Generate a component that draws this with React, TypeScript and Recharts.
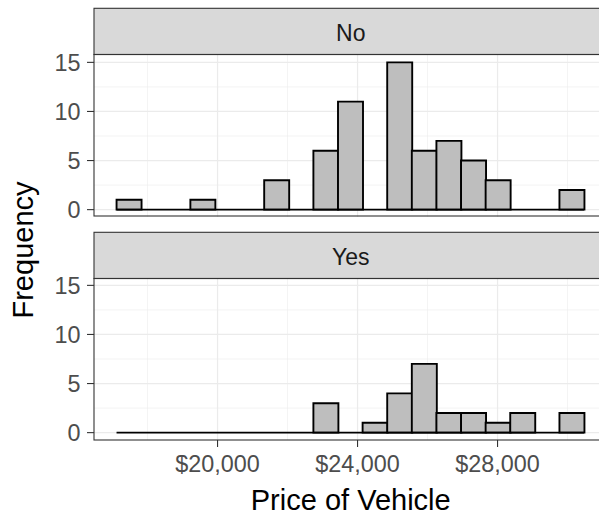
import React from "react";
import {
  BarChart,
  Bar,
  XAxis,
  YAxis,
  CartesianGrid,
  ReferenceLine,
} from "recharts";

// Histogram bins (centres, $) and counts per facet
const binCenters = [
  17466, 18169, 18872, 19575, 20278, 20981, 21684, 22387, 23090, 23793,
  24496, 25199, 25902, 26605, 27308, 28011, 28714, 29417, 30120,
];
const countsNo = [1, 0, 0, 1, 0, 0, 3, 0, 6, 11, 0, 15, 6, 7, 5, 3, 0, 0, 2];
const countsYes = [0, 0, 0, 0, 0, 0, 0, 0, 3, 0, 1, 4, 7, 2, 2, 1, 2, 0, 2];
const firstEdge = 17114;
const lastEdge = 30471;

const facetLabels = ["No", "Yes"];
const xTicks = [20000, 24000, 28000];
const xMinor = [18000, 22000, 26000, 30000];
const yTicks = [0, 5, 10, 15];
const yMinor = [2.5, 7.5, 12.5];
const xDomain: [number, number] = [16470, 31140];
const yDomain: [number, number] = [-0.75, 15.75];

const FONT = "'Liberation Sans', Arial, Helvetica, sans-serif";
const CHART_W = 620;
const PLOT_LEFT = 94;
const PLOT_W = (xDomain[1] - xDomain[0]) * 0.035;
const RIGHT_M = CHART_W - PLOT_LEFT - PLOT_W;

const fmt = (v: number) => "$" + v.toLocaleString("en-US");

function Panel({
  counts,
  top,
  height,
  showX,
}: {
  counts: number[];
  top: number;
  height: number;
  showX: boolean;
}) {
  const data = binCenters.map((c, i) => ({ x: c, count: counts[i] }));
  const bottom = showX ? 34 : height - top - 162;
  return (
    <div style={{ position: "absolute", left: 0, top: 0 }}>
      <BarChart
        width={CHART_W}
        height={height}
        data={data}
        margin={{ top, right: RIGHT_M, left: 0, bottom }}
        barCategoryGap={0}
        barGap={0}
      >
        <CartesianGrid
          stroke="#EBEBEB"
          strokeWidth={0.6}
          horizontalValues={yMinor}
          verticalValues={xMinor}
        />
        <CartesianGrid
          stroke="#EBEBEB"
          strokeWidth={1.2}
          horizontalValues={yTicks}
          verticalValues={xTicks}
        />
        <XAxis
          dataKey="x"
          type="number"
          domain={xDomain}
          allowDataOverflow
          ticks={xTicks}
          tickFormatter={fmt}
          hide={!showX}
          height={showX ? 40 : 0}
          axisLine={false}
          tickLine={{ stroke: "#333333", strokeWidth: 1.1 }}
          tickSize={7}
          tickMargin={8}
          tick={{ fill: "#4D4D4D", fontSize: 23.4, fontFamily: FONT }}
          interval={0}
        />
        <YAxis
          type="number"
          domain={yDomain}
          allowDataOverflow
          ticks={yTicks}
          width={PLOT_LEFT}
          axisLine={false}
          tickLine={{ stroke: "#333333", strokeWidth: 1.1 }}
          tickSize={7}
          tickMargin={6.5}
          tick={{ fill: "#4D4D4D", fontSize: 23.4, fontFamily: FONT }}
          interval={0}
        />
        <Bar
          dataKey="count"
          fill="#BEBEBE"
          stroke="#000000"
          strokeWidth={1.9}
          isAnimationActive={false}
        />
        <ReferenceLine
          segment={[
            { x: firstEdge, y: 0 },
            { x: lastEdge, y: 0 },
          ]}
          stroke="#000000"
          strokeWidth={1.9}
        />
      </BarChart>
    </div>
  );
}

export default function App() {
  const stripTops = [8.3, 232.3];
  const stripH = 46.2;
  const panelTops = [54.5, 278.5];
  const panelH = 161.5;
  const cx = PLOT_LEFT + PLOT_W / 2;
  return (
    <div
      style={{
        position: "absolute",
        left: 0,
        top: 0,
        width: 599,
        height: 514,
        overflow: "hidden",
        background: "#FFFFFF",
        fontFamily: FONT,
      }}
    >
      <Panel counts={countsNo} top={55} height={230} showX={false} />
      <Panel counts={countsYes} top={278} height={514} showX={true} />
      <svg
        width={CHART_W}
        height={514}
        style={{ position: "absolute", left: 0, top: 0, pointerEvents: "none" }}
      >
        {facetLabels.map((lab, i) => (
          <g key={lab}>
            <rect
              x={PLOT_LEFT}
              y={stripTops[i]}
              width={PLOT_W}
              height={stripH}
              fill="#D9D9D9"
              stroke="#333333"
              strokeWidth={1.1}
            />
            <text
              x={cx}
              y={stripTops[i] + 32.4}
              textAnchor="middle"
              fontSize={23}
              fill="#1A1A1A"
              fontFamily={FONT}
            >
              {lab}
            </text>
            <rect
              x={PLOT_LEFT}
              y={panelTops[i]}
              width={PLOT_W}
              height={panelH}
              fill="none"
              stroke="#333333"
              strokeWidth={1.1}
            />
          </g>
        ))}
        <text
          x={32.7}
          y={250}
          transform="rotate(-90 32.7 250)"
          textAnchor="middle"
          fontSize={29}
          fill="#000000"
          fontFamily={FONT}
        >
          Frequency
        </text>
        <text
          x={cx}
          y={510}
          textAnchor="middle"
          fontSize={29}
          fill="#000000"
          fontFamily={FONT}
        >
          Price of Vehicle
        </text>
      </svg>
    </div>
  );
}
